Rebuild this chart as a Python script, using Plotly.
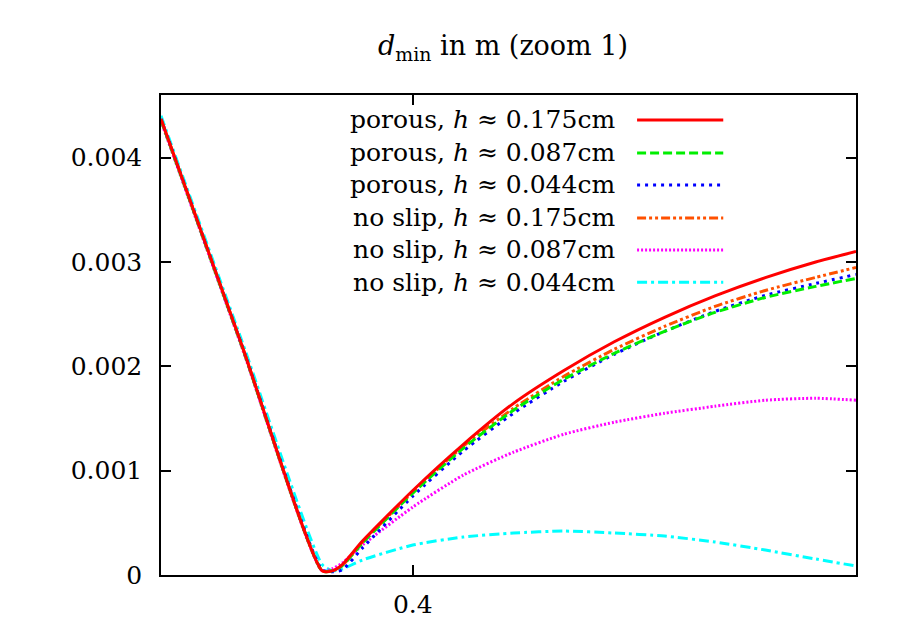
import plotly.graph_objects as go

# sample positions along the x axis
x_vals = [0.350, 0.366, 0.382, 0.384, 0.386, 0.39, 0.40, 0.41, 0.42, 0.43,
          0.44, 0.45, 0.46, 0.47, 0.48, 0.488]

# d_min values (m)
porous_175 = [0.00437, 0.00221, 0.00004, 0.00004, 0.00010, 0.000325, 0.00081, 0.00125,
              0.001645, 0.00196, 0.002235, 0.00247, 0.002675, 0.00285, 0.003, 0.0031]
porous_087 = [0.00436, 0.00220, 0.00004, 0.00004, 0.00009, 0.000306, 0.000785, 0.001215,
              0.001579, 0.001876, 0.002124, 0.002335, 0.002517, 0.00266, 0.002766, 0.002842]
porous_044 = [0.00437, 0.00221, 0.00005, 0.00003, 0.00005, 0.000258, 0.000756, 0.001187,
              0.00155, 0.001856, 0.002115, 0.002335, 0.002526, 0.00268, 0.002794, 0.00288]
noslip_175 = [0.00437, 0.00221, 0.00004, 0.00004, 0.00009, 0.000316, 0.000794, 0.001234,
              0.001598, 0.001904, 0.002163, 0.002383, 0.002574, 0.002727, 0.002852, 0.002947]
noslip_087 = [0.00435, 0.00219, 0.00004, 0.00006, 0.000115, 0.000287, 0.000651, 0.000957,
              0.001177, 0.001349, 0.001464, 0.00155, 0.001617, 0.001675, 0.001694, 0.001675]
noslip_044 = [0.00440, 0.00225, 0.00010, 0.00004, 0.000057, 0.000144, 0.000287, 0.000364,
              0.000402, 0.000421, 0.000402, 0.000373, 0.000316, 0.000239, 0.000153, 0.000086]

labels = ["porous, <i>h</i> ≈ 0.175cm", "porous, <i>h</i> ≈ 0.087cm",
          "porous, <i>h</i> ≈ 0.044cm", "no slip, <i>h</i> ≈ 0.175cm",
          "no slip, <i>h</i> ≈ 0.087cm", "no slip, <i>h</i> ≈ 0.044cm"]
colors = ["#ff0000", "#00ee00", "#0000ff", "#ff5000", "#ff00ff", "#00ffff"]
dashes = ["solid", "9px,4px", "3px,5px", "9px,3px,3px,3px,3px,3px", "2px,2px", "10px,4px,3px,4px"]

series = [porous_175, porous_087, porous_044, noslip_175, noslip_087, noslip_044]
font = "DejaVu Serif"

fig = go.Figure()
# draw in reverse so red ends up on top
for i in reversed(range(len(series))):
    fig.add_trace(go.Scatter(x=x_vals, y=series[i], mode="lines", name=labels[i],
                             line=dict(color=colors[i], width=3, dash=dashes[i],
                                       shape="spline", smoothing=0.6),
                             showlegend=False))

# gnuplot style key: one right-aligned text block, sample lines to its right
key_y = [0.948, 0.879, 0.8125, 0.744, 0.677, 0.610]
fig.add_annotation(x=0.656, y=(key_y[0] + key_y[-1]) / 2, xref="paper", yref="paper",
                   text="<br>".join(labels), align="right", showarrow=False,
                   xanchor="right", yanchor="middle",
                   font=dict(family=font, size=25, color="black"))
for i in range(len(labels)):
    fig.add_shape(type="line", xref="paper", yref="paper", x0=0.685, x1=0.809,
                  y0=key_y[i], y1=key_y[i],
                  line=dict(color=colors[i], width=3, dash=dashes[i]))

# page body adds an 8px offset, so the figure is a bit smaller than the window
fig.update_layout(
    width=905, height=631,
    margin=dict(l=153, r=57, t=87, b=64),
    plot_bgcolor="white", paper_bgcolor="white",
    title=dict(text="<i>d</i><sub>min</sub> in m (zoom 1)", x=0.547, xanchor="center",
               y=0.94, yanchor="middle", font=dict(family=font, size=27, color="black")),
    font=dict(family=font, size=25, color="black"),
    xaxis=dict(range=[0.35, 0.488], tickvals=[0.4], ticktext=["0.4"], ticks="inside",
               ticklen=10, tickwidth=1.5, tickcolor="black", showline=True, linecolor="black",
               linewidth=1.5, mirror="allticks", showgrid=False, zeroline=False,
               ticklabelstandoff=6),
    yaxis=dict(range=[0, 0.0046], tickvals=[0, 0.001, 0.002, 0.003, 0.004],
               ticktext=["0", "0.001", "0.002", "0.003", "0.004"], ticks="inside",
               ticklen=10, tickwidth=1.5, tickcolor="black", showline=True, linecolor="black",
               linewidth=1.5, mirror="allticks", showgrid=False, zeroline=False,
               ticklabelstandoff=12),
)

fig.write_html("out.html")
